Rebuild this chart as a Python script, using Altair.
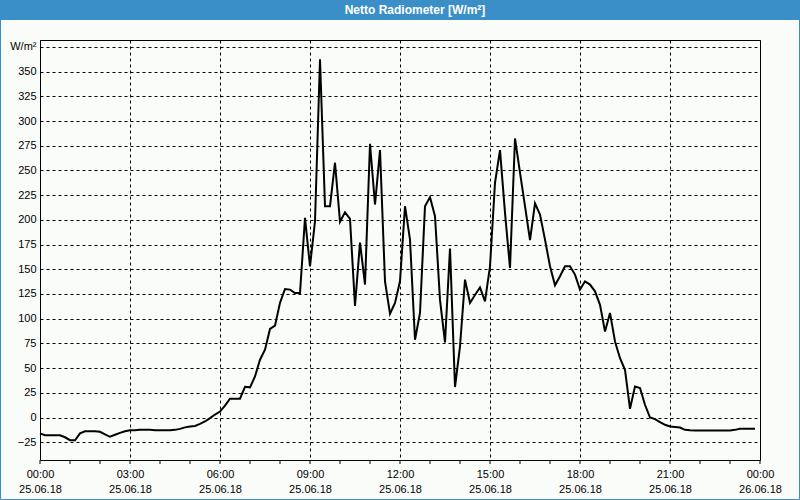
import altair as alt
import pandas as pd

# 10-minute samples from 00:00 to 23:50 (W/m²)
values = [
    -16, -18, -18, -18, -18, -20, -23, -23, -16, -14,
    -14, -14, -14.5, -17, -19.5, -17.5, -15.5, -14, -13, -13,
    -12.5, -12.5, -12.5, -13, -13, -13, -13, -12.5, -11.5, -10,
    -9, -8.5, -6.5, -4, -0.6, 3, 6, 12, 19, 19,
    19, 31, 30.5, 41.5, 58.5, 68.6, 89.6, 93, 116, 130,
    129.4, 126, 126, 202, 153, 198.6, 362.5, 213.8, 213.8, 257.8,
    198, 207.7, 201, 113, 177, 134.5, 277, 215.5, 270.6, 137.8,
    105, 116, 137.8, 213.8, 180, 78.7, 105.8, 213.8, 223, 203.7,
    119, 76, 171, 30.8, 72, 139.5, 116, 124, 131.7, 117.5,
    153, 237.5, 270.6, 207, 151.4, 282.4, 247.7, 213.8, 179.4, 216.6,
    205.4, 180, 153, 133.8, 142.9, 153, 153, 144.6, 129.4, 137.8,
    134.5, 127.7, 114, 87, 105.8, 77, 60, 48.3, 8.8, 31.4,
    29.8, 12.9, 0, -1.6, -4.7, -7.4, -9.1, -9.5, -10.1, -12.5,
    -13, -13.2, -13.2, -13.2, -13.2, -13.2, -13.2, -13.2, -13.2, -12.5,
    -11.5, -11.5, -11.5, -11.5,
]
hours = [k / 6 for k in range(len(values))]
y_ticks = list(range(-25, 376, 25))
x_grid = list(range(0, 25, 3))
x_minor = list(range(0, 25))
title_text = ["Netto Radiometer [W/m²]"]

df = pd.DataFrame({"h": hours, "v": values})

FONT = "Liberation Sans"
BLUE = "#3b8fc7"

x_label_expr = (
    "datum.value == 24 ? ['00:00', '26.06.18'] : "
    "[(datum.value < 10 ? '0' : '') + datum.value + ':00', '25.06.18']"
)

x_axis = alt.Axis(
    values=x_grid, grid=True, gridDash=[3, 3], gridColor="black", gridOpacity=1,
    ticks=False, domain=False, labelExpr=x_label_expr, labelPadding=8,
    labelFontSize=11, labelFont=FONT, labelColor="black", labelLineHeight=15,
    labelBaseline="top", labelFlush=False, labelOverlap=False, title=None,
)

line = alt.Chart(df).mark_line(color="black", strokeWidth=2).encode(
    x=alt.X("h:Q", scale=alt.Scale(domain=[0, 24], nice=False, zero=False), axis=x_axis),
    y=alt.Y(
        "v:Q",
        scale=alt.Scale(domain=[-43, 382], nice=False, zero=False),
        axis=alt.Axis(
            values=y_ticks, grid=True, gridDash=[3, 3], gridColor="black", gridOpacity=1,
            ticks=False, domain=False, labelPadding=4, labelFontSize=11, labelFont=FONT,
            labelColor="black", labelExpr="datum.value == 375 ? 'W/m²' : datum.label",
            labelOverlap=False, title=None,
        ),
    ),
)

ticks = alt.Chart(pd.DataFrame({"h": x_minor})).mark_rule(color="black", strokeWidth=1).encode(
    x=alt.X("h:Q", scale=alt.Scale(domain=[0, 24], nice=False, zero=False), axis=x_axis),
    y=alt.value(420),
    y2=alt.value(424),
)

one = pd.DataFrame({"t": title_text})

title_bar = alt.Chart(one).mark_rect(color=BLUE).encode(
    x=alt.value(-40), x2=alt.value(760), y=alt.value(-40), y2=alt.value(-20)
)
outer = alt.Chart(one).mark_rect(fillOpacity=0, stroke=BLUE, strokeWidth=1).encode(
    x=alt.value(-39.5), x2=alt.value(759.5), y=alt.value(-39.5), y2=alt.value(459.5)
)
title = alt.Chart(one).mark_text(
    color="white", font=FONT, fontSize=12, fontWeight="bold", align="center", baseline="middle"
).encode(text="t:N", x=alt.value(375), y=alt.value(-30))

chart = (
    alt.layer(line, ticks, outer, title_bar, title)
    .properties(
        width=720,
        height=420,
        padding={"left": 40, "right": 40, "top": 40, "bottom": 40},
        autosize=alt.AutoSizeParams(type="none"),
        background="#fafcfa",
    )
    .configure_view(stroke="black", strokeWidth=1)
)

chart.save("out.html", embed_options={"renderer": "svg", "actions": False})
